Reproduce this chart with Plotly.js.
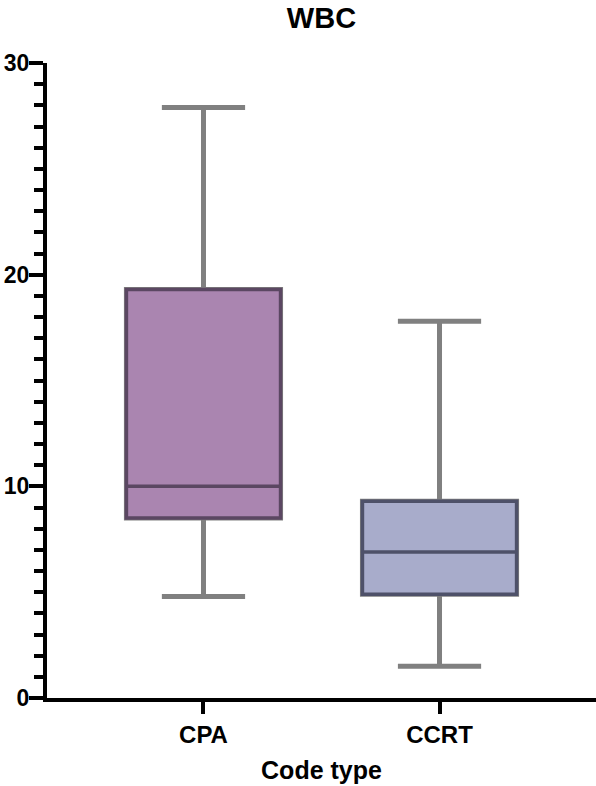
<!DOCTYPE html>
<html>
<head>
<meta charset="utf-8">
<script src="https://cdn.plot.ly/plotly-3.0.1.min.js"></script>
<style>html,body{margin:0;padding:0;background:#fff;}#chart{width:596px;height:786px;}</style>
</head>
<body>
<div id="chart"></div>
<script>
// Data
const categories = ['CPA', 'CCRT'];
const lowerWhisker = [4.8, 1.5];
const q1Values = [8.5, 4.9];
const medianValues = [10.0, 6.9];
const q3Values = [19.3, 9.3];
const upperWhisker = [27.9, 17.8];
const yTickVals = [0, 10, 20, 30];

const fillColors = ['#AA85B0', '#A8ACCB'];
const darkColors = ['#5B4762', '#4E5169'];
const FONT = 'Arial, "Liberation Sans", sans-serif';

const traces = [];
categories.forEach((c, i) => {
  // gray layer: whiskers + caps
  traces.push({
    type: 'box', x: [c],
    q1: [q1Values[i]], median: [medianValues[i]], q3: [q3Values[i]],
    lowerfence: [lowerWhisker[i]], upperfence: [upperWhisker[i]],
    fillcolor: fillColors[i], line: {color: '#808080', width: 5},
    width: 0.653, whiskerwidth: 0.54, boxpoints: false,
    hoverinfo: 'skip', showlegend: false
  });
});
categories.forEach((c, i) => {
  // dark box layer (outline + median)
  traces.push({
    type: 'box', x: [c],
    q1: [q1Values[i]], median: [medianValues[i]], q3: [q3Values[i]],
    lowerfence: [q1Values[i]], upperfence: [q3Values[i]],
    fillcolor: fillColors[i], line: {color: darkColors[i], width: 3.5},
    width: 0.653, whiskerwidth: 0, boxpoints: false,
    hoverinfo: 'skip', showlegend: false
  });
});

const layout = {
  width: 596, height: 786,
  paper_bgcolor: '#ffffff', plot_bgcolor: '#ffffff',
  margin: {l: 47, r: 0, t: 63, b: 88},
  boxmode: 'overlay',
  showlegend: false,
  font: {family: FONT, color: '#000000'},
  title: {
    text: 'WBC', font: {family: FONT, size: 29, weight: 'bold', color: '#000'},
    x: 0.5, xref: 'paper', xanchor: 'center',
    y: 0.977, yref: 'container', yanchor: 'middle'
  },
  xaxis: {
    type: 'category', range: [-0.663, 1.663],
    showline: true, linecolor: '#000', linewidth: 4,
    ticks: 'outside', ticklen: 12, tickwidth: 4, tickcolor: '#000',
    showgrid: false, zeroline: false,
    tickfont: {family: FONT, size: 24, weight: 'bold', color: '#000'},
    title: {text: 'Code type', font: {family: FONT, size: 25, weight: 'bold', color: '#000'}, standoff: 16}
  },
  yaxis: {
    range: [0, 30], tickvals: yTickVals,
    showline: true, linecolor: '#000', linewidth: 4,
    ticks: 'outside', ticklen: 14, tickwidth: 4, tickcolor: '#000',
    ticklabelstandoff: -5,
    minor: {dtick: 1, ticks: 'outside', ticklen: 9, tickwidth: 4, tickcolor: '#000', showgrid: false},
    showgrid: false, zeroline: false,
    tickfont: {family: FONT, size: 23, weight: 'bold', color: '#000'}
  }
};

Plotly.newPlot('chart', traces, layout, {displayModeBar: false, staticPlot: true});
</script>
</body>
</html>
